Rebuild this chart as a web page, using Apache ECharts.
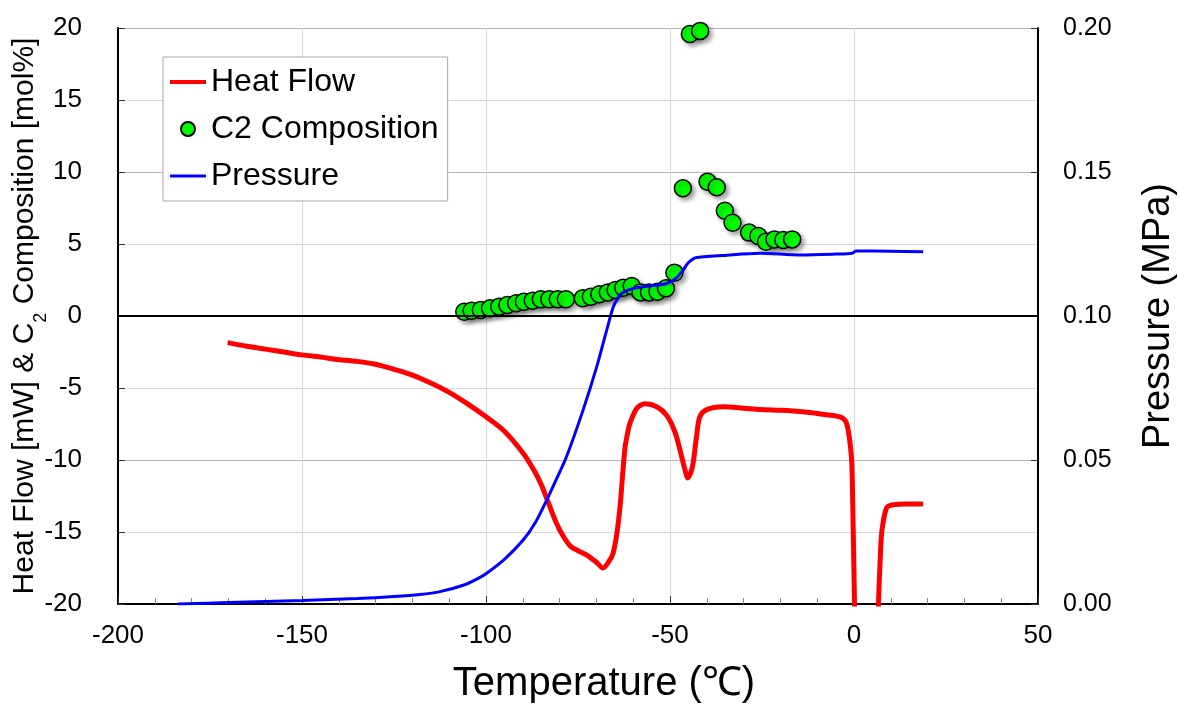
<!DOCTYPE html>
<html>
<head>
<meta charset="utf-8">
<script src="https://cdn.jsdelivr.net/npm/echarts@6/dist/echarts.min.js"></script>
<style>
  html, body { margin: 0; padding: 0; background: #fff; }
  #chart { width: 1179px; height: 708px; }
</style>
</head>
<body>
<div id="chart"></div>
<script>
// heat flow trace (temperature, mW); '-' breaks the line where it leaves the plot
const heatTemp = [-170.2, -165, -160, -155, -150, -145, -141, -135, -130, -125, -120, -115, -110, -105, -100,
  -95, -90, -87, -85, -83, -81, -79, -77, -75, -72.6, -70, -68.2, -66.5, -65.5, -64.5, -63.6, -62.8, -62.2,
  -61.5, -60.9, -59, -56.8, -53.6, -50.9, -48.6, -46.8, -45.8, -45.2, -44.4, -43.7, -42.8, -41.9, -40,
  -35.6, -30, -25.5, -20, -16.5, -12, -9.2, -3.8, -2.3, -1.6, -1.0, -0.6, -0.2, 0.2, 3.3,
  6.5, 7.1, 7.6, 8.9, 10.7, 14, 18.8]
const heatFlow = [-1.85, -2.1, -2.3, -2.5, -2.7, -2.85, -3.0, -3.15, -3.35, -3.7, -4.1, -4.65, -5.3, -6.1, -7.0,
  -8.0, -9.5, -10.7, -11.7, -13.0, -14.3, -15.3, -16.0, -16.3, -16.6, -17.1, -17.5, -17.0, -16.5, -15.2, -13.3, -10.8, -9.1,
  -8.1, -7.45, -6.4, -6.1, -6.3, -6.9, -8.1, -9.8, -10.8, -11.25, -10.9, -10.2, -8.4, -7.0, -6.5,
  -6.3, -6.4, -6.5, -6.55, -6.6, -6.7, -6.8, -7.0, -7.3, -7.9, -9.0, -10.2, -15, -21, '-',
  -21, -17, -14.9, -13.3, -13.1, -13.05, -13.05]

// C2 composition samples (temperature, mol%)
const c2Temp = [-105.9, -103.9, -101.4, -98.9, -96.4, -94.2, -91.8, -89.7, -87.3, -85.1, -82.8, -80.5, -78.3,
  -73.7, -71.5, -69.2, -66.9, -64.8, -62.7, -60.4, -58.0, -55.7, -53.4, -51.1, -48.8,
  -46.5, -44.6, -41.8, -39.8, -37.3, -35.1, -33.0, -28.5, -26.0, -23.9, -21.6, -19.2, -16.8]
const c2Comp = [0.30, 0.37, 0.42, 0.53, 0.65, 0.76, 0.88, 0.99, 1.06, 1.16, 1.16, 1.16, 1.16,
  1.23, 1.34, 1.51, 1.64, 1.81, 1.97, 2.08, 1.64, 1.64, 1.69, 1.92, 3.01,
  8.87, 19.58, 19.8, 9.33, 8.94, 7.31, 6.48, 5.79, 5.56, 5.16, 5.32, 5.28, 5.32]

// pressure trace (temperature, MPa)
const pressTemp = [-183.7, -170, -150, -135, -125, -118, -112.5, -106, -102, -99.8, -95, -89.9, -86.5, -83.5, -81,
  -78.1, -73.6, -69.9, -67.2, -65.4, -64.2, -63.1, -60, -55, -50.9, -48.5, -46.4, -45.1, -43.5, -42.7,
  -35.6, -25.5, -14.7, -5, -0.5, 0.5, 10, 18.8]
const pressure = [0.0, 0.0005, 0.0012, 0.0019, 0.0026, 0.0033, 0.0043, 0.0066, 0.0090, 0.0107, 0.0155, 0.0222, 0.0285, 0.0361, 0.043,
  0.0512, 0.0674, 0.0824, 0.0951, 0.1032, 0.1062, 0.1079, 0.1096, 0.1105, 0.1113, 0.113, 0.116, 0.1184, 0.12, 0.1203,
  0.121, 0.1218, 0.1212, 0.1215, 0.1218, 0.1226, 0.1225, 0.1223]

const font = 'Liberation Sans, Arial, sans-serif'

const zip = (xs, ys) => xs.map((x, i) => [x, ys[i]])

const chart = echarts.init(document.getElementById('chart'))
chart.setOption({
  animation: false,
  backgroundColor: '#fff',
  textStyle: { fontFamily: font },
  grid: { left: 118, right: 141, top: 28, bottom: 104, containLabel: false, outerBoundsMode: 'none' },
  legend: {
    orient: 'vertical',
    left: 163,
    top: 57,
    padding: [9, 9, 9, 7],
    itemGap: 15,
    itemWidth: 36,
    itemHeight: 14,
    backgroundColor: '#fff',
    borderColor: '#a6a6a6',
    borderWidth: 1,
    itemStyle: { shadowBlur: 0, shadowOffsetX: 0, shadowOffsetY: 0 },
    textStyle: { fontSize: 32, color: '#000', fontFamily: font },
    data: [
      { name: 'Heat Flow', icon: 'path://M0,0H36V4H0Z' },
      { name: 'C2 Composition' },
      { name: 'Pressure', icon: 'path://M0,0H36V3H0Z' }
    ]
  },
  xAxis: {
    type: 'value',
    min: -200,
    max: 50,
    interval: 50,
    name: 'Temperature (℃)',
    nameLocation: 'middle',
    nameGap: 60,
    nameTextStyle: { fontSize: 40, color: '#000', fontFamily: font, padding: [0, 0, 0, 52] },
    axisLine: { onZero: false, lineStyle: { color: '#000', width: 2 } },
    axisTick: { inside: true, length: 8, lineStyle: { color: '#333' } },
    minorTick: { show: true, splitNumber: 5, length: 6, lineStyle: { color: '#888' } },
    axisLabel: { fontSize: 26, color: '#000', margin: 19 },
    splitLine: { show: true, lineStyle: { color: '#d9d9d9', width: 1 } }
  },
  yAxis: [{
    type: 'value',
    min: -20,
    max: 20,
    interval: 5,
    name: '{a|Heat Flow [mW] & C}{s|2}{a| Composition [mol%]}',
    nameLocation: 'middle',
    nameGap: 77,
    nameRotate: 90,
    nameMoveOverlap: false,
    nameTextStyle: {
      rich: {
        a: { fontSize: 30, color: '#000', fontFamily: font, lineHeight: 32 },
        s: { fontSize: 18, color: '#000', fontFamily: font, verticalAlign: 'bottom', lineHeight: 32, padding: [0, 0, -9, 0] }
      }
    },
    axisLine: { show: true, onZero: false, lineStyle: { color: '#000', width: 2 } },
    axisTick: { show: true, inside: true, length: 7, lineStyle: { color: '#333' } },
    axisLabel: { fontSize: 26, color: '#000', margin: 36 },
    splitLine: { show: true, lineStyle: { color: '#d9d9d9', width: 1 } }
  }, {
    type: 'value',
    min: 0,
    max: 0.2,
    interval: 0.05,
    position: 'right',
    name: 'Pressure (MPa)',
    nameLocation: 'middle',
    nameGap: 102,
    nameRotate: 90,
    nameTextStyle: { fontSize: 38, color: '#000', fontFamily: font },
    axisLine: { show: true, onZero: false, lineStyle: { color: '#000', width: 2 } },
    axisTick: { show: true, inside: true, length: 7, lineStyle: { color: '#333' } },
    axisLabel: { fontSize: 25, color: '#000', margin: 25, formatter: v => v.toFixed(2) },
    splitLine: { show: true, lineStyle: { color: '#b3b3b3', width: 1 } }
  }],
  series: [{
    name: 'Heat Flow',
    type: 'line',
    yAxisIndex: 0,
    data: zip(heatTemp, heatFlow),
    symbol: 'none',
    smooth: 0.3,
    connectNulls: false,
    clip: true,
    lineStyle: { color: '#ff0000', width: 5 },
    itemStyle: { color: '#ff0000' },
    markLine: {
      silent: true,
      symbol: 'none',
      label: { show: false },
      lineStyle: { color: '#000', width: 2, type: 'solid' },
      data: [{ yAxis: 0 }]
    },
    z: 3
  }, {
    name: 'Pressure',
    type: 'line',
    yAxisIndex: 1,
    data: zip(pressTemp, pressure),
    symbol: 'none',
    smooth: 0.3,
    lineStyle: { color: '#0000ff', width: 3 },
    itemStyle: { color: '#0000ff' },
    z: 4
  }, {
    name: 'C2 Composition',
    type: 'scatter',
    yAxisIndex: 0,
    data: zip(c2Temp, c2Comp),
    symbol: 'circle',
    symbolSize: 17,
    itemStyle: {
      color: '#00ff00',
      borderColor: '#000',
      borderWidth: 1.5,
      opacity: 1,
      shadowBlur: 4,
      shadowColor: 'rgba(0,0,0,0.35)',
      shadowOffsetX: 3,
      shadowOffsetY: 3
    },
    z: 3
  }]
})
</script>
</body>
</html>
